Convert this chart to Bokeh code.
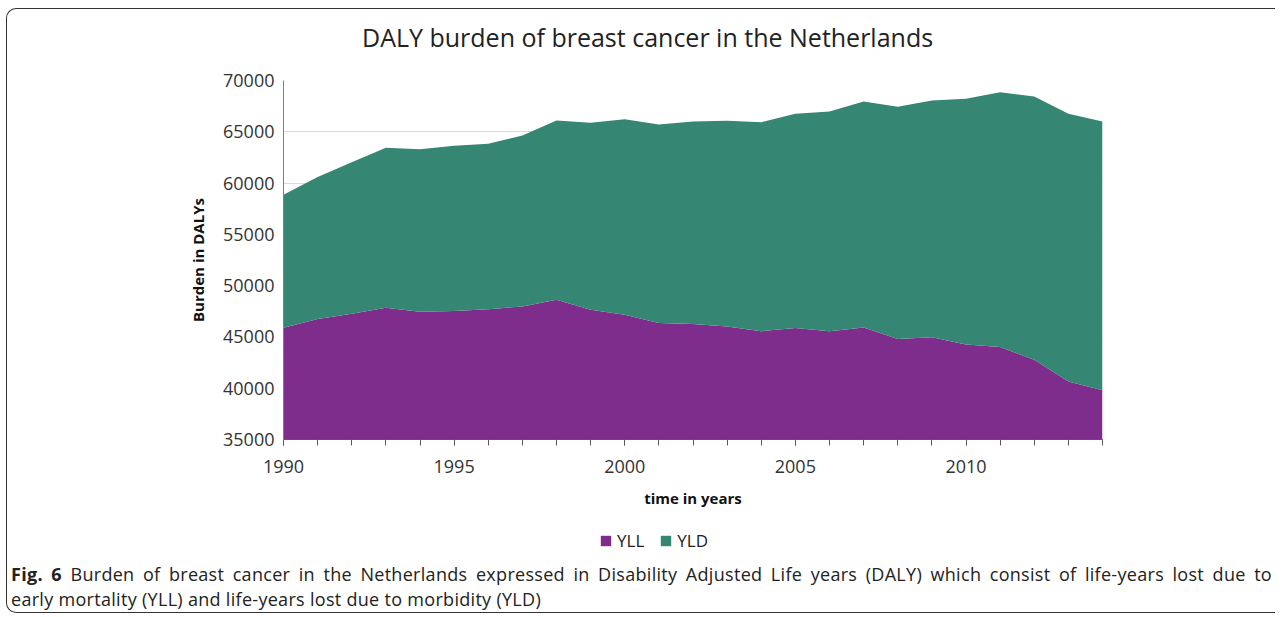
from bokeh.plotting import figure
from bokeh.models import ColumnDataSource, FixedTicker, Div, Range1d, Legend, LegendItem
from bokeh.layouts import column
from bokeh.embed import file_html
from bokeh.resources import INLINE

years = list(range(1990, 2015))
yll = [45900, 46740, 47260, 47850, 47460, 47520, 47710, 47970, 48630, 47650,
       47160, 46350, 46250, 46020, 45560, 45860, 45560, 45930, 44790, 44980,
       44270, 44010, 42780, 40660, 39790]
yld = [12960, 13840, 14780, 15590, 15840, 16120, 16120, 16670, 17470, 18220,
       19070, 19360, 19750, 20050, 20380, 20890, 21420, 22020, 22640, 23070,
       23940, 24850, 25660, 26090, 26210]
series = ["YLL", "YLD"]
colors = ["#7f2d8d", "#358672"]
y_ticks = [35000, 40000, 45000, 50000, 55000, 60000, 65000, 70000]
x_ticks = [1990, 1995, 2000, 2005, 2010]
title_text = "DALY burden of breast cancer in the Netherlands"

FONT = "Open Sans"

src = ColumnDataSource(dict(year=years, YLL=yll, YLD=yld))

title = Div(text=title_text, width=900, height=57, margin=(0, 0, 0, 355),
            styles={"font-family": "'Open Sans'", "font-size": "25px", "line-height": "57px",
                    "color": "#222222", "white-space": "nowrap"})

p = figure(width=1268, height=444, output_backend="svg", toolbar_location=None,
           x_range=Range1d(1990, 2014), y_range=Range1d(35000, 70000),
           min_border_left=276, min_border_right=173, min_border_top=14,
           min_border_bottom=70)

p.varea_stack(series, x="year", color=colors, source=src)

p.outline_line_color = None
p.xgrid.grid_line_color = None
p.ygrid.grid_line_color = "#d9d9d9"
p.ygrid.ticker = FixedTicker(ticks=y_ticks)

xa = p.xaxis[0]
xa.ticker = FixedTicker(ticks=x_ticks, minor_ticks=years)
xa.axis_label = "time in years"
xa.axis_label_text_font = FONT
xa.axis_label_text_font_style = "bold"
xa.axis_label_text_font_size = "15px"
xa.axis_label_text_color = "#111111"
xa.axis_label_standoff = 12
xa.major_label_text_font = FONT
xa.major_label_text_font_size = "18px"
xa.major_label_text_color = "#333333"
xa.major_label_standoff = 14
xa.major_tick_in = 0
xa.major_tick_out = 6
xa.minor_tick_in = 0
xa.minor_tick_out = 6
xa.axis_line_color = "#595959"
xa.major_tick_line_color = "#595959"
xa.minor_tick_line_color = "#595959"

ya = p.yaxis[0]
ya.ticker = FixedTicker(ticks=y_ticks)
ya.axis_label = "Burden in DALYs"
ya.axis_label_text_font = FONT
ya.axis_label_text_font_style = "bold"
ya.axis_label_text_font_size = "15px"
ya.axis_label_text_color = "#111111"
ya.axis_label_standoff = 12
ya.major_label_text_font = FONT
ya.major_label_text_font_size = "18px"
ya.major_label_text_color = "#333333"
ya.major_label_standoff = 9
ya.major_tick_in = 0
ya.major_tick_out = 0
ya.minor_tick_out = 0
ya.minor_tick_in = 0
ya.axis_line_color = "#7f7f7f"

# legend strip: a figure holding only the legend; its stacked areas use the same
# data but lie outside its visible range, so only the swatches show
lf = figure(width=1268, height=52, output_backend="svg", toolbar_location=None,
            x_range=Range1d(0, 1), y_range=Range1d(0, 1), min_border=0)
lf.axis.visible = False
lf.grid.visible = False
lf.outline_line_color = None
lrs = lf.varea_stack(series, x="year", color=colors, source=src)
leg = Legend(items=[LegendItem(label=s, renderers=[r]) for s, r in zip(series, lrs)],
             orientation="horizontal", location=(316, 10),
             border_line_color=None, background_fill_alpha=0,
             padding=0, margin=0, spacing=15, glyph_width=13, glyph_height=13,
             label_standoff=5, label_text_font=FONT, label_text_font_size="17px",
             label_text_color="#222222")
lf.add_layout(leg, "center")

caption = Div(
    text=('<div style="width: 1261px; text-align: justify; text-align-last: justify;">'
          '<b>Fig. 6</b> Burden of breast cancer in the Netherlands expressed in Disability '
          'Adjusted Life years (DALY) which consist of life-years lost due to</div>'
          '<div style="width: 1261px;">early mortality (YLL) and life-years lost due to morbidity (YLD)</div>'),
    width=1262, margin=(0, 0, 0, 4),
    styles={"font-family": "'Open Sans'", "font-size": "18px", "line-height": "25px",
            "letter-spacing": "0.3px", "color": "#222222"})

layout = column(title, p, lf, caption, spacing=0, margin=(8, 0, 0, 6),
                styles={"border-left": "1.5px solid #333", "border-top": "1.5px solid #333",
                        "border-bottom": "1.5px solid #333",
                        "border-top-left-radius": "10px", "border-bottom-left-radius": "10px"})

open("out.html", "w").write(file_html(layout, INLINE))
